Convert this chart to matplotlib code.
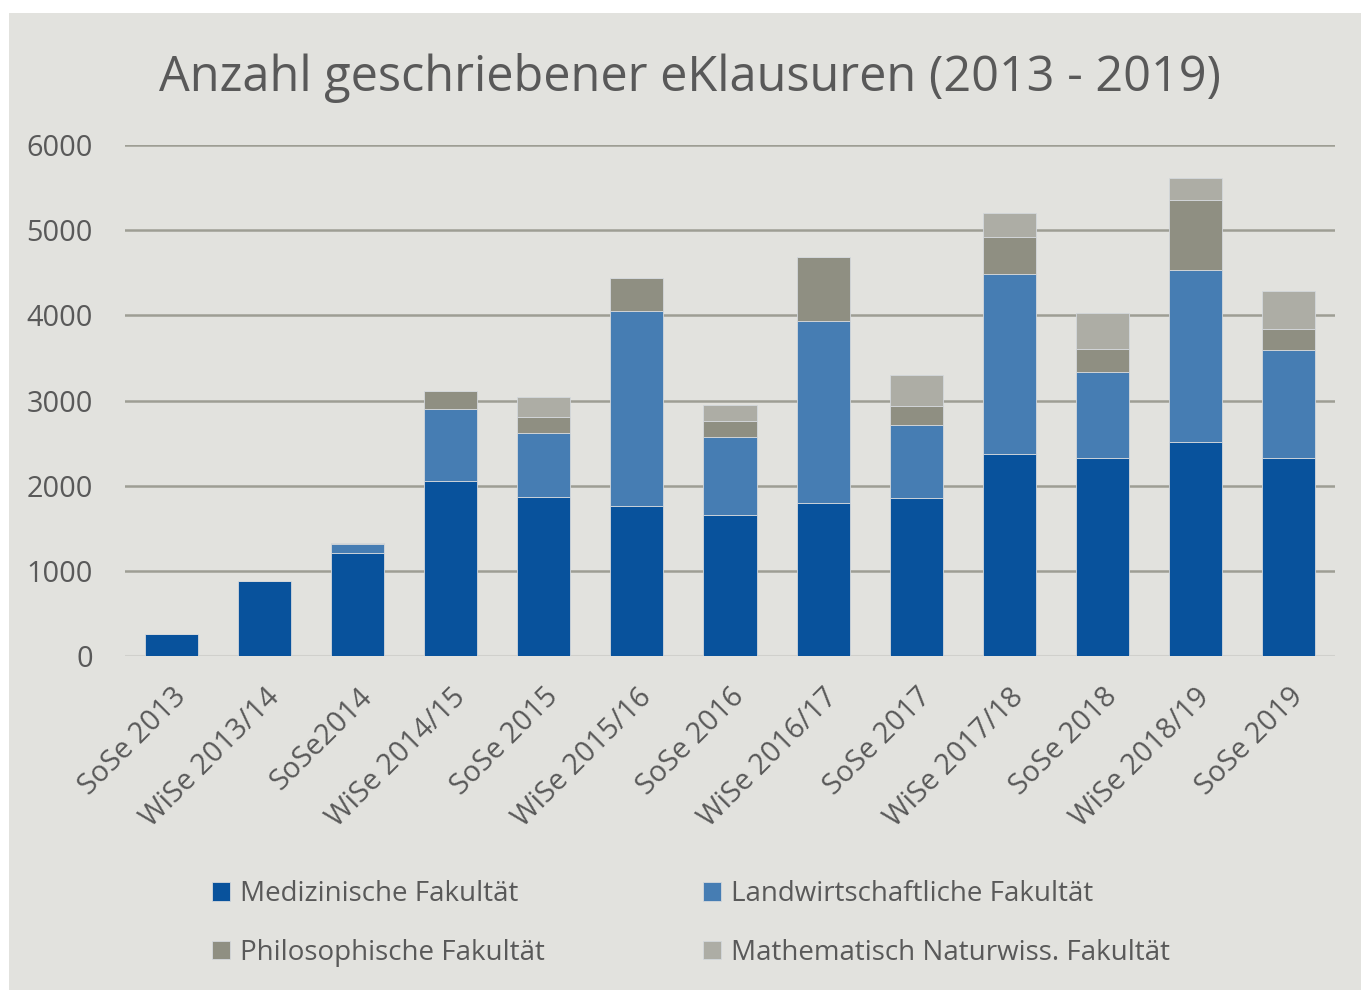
import numpy as np
import matplotlib as mpl
mpl.use('Agg')
import matplotlib.pyplot as plt

# Semester und Werte
semester = ['SoSe 2013', 'WiSe 2013/14', 'SoSe2014', 'WiSe 2014/15', 'SoSe 2015',
            'WiSe 2015/16', 'SoSe 2016', 'WiSe 2016/17', 'SoSe 2017', 'WiSe 2017/18',
            'SoSe 2018', 'WiSe 2018/19', 'SoSe 2019']
medizin = [260, 875, 1210, 2050, 1870, 1760, 1660, 1800, 1850, 2375, 2320, 2510, 2320]
landwirt = [0, 0, 100, 845, 745, 2290, 910, 2135, 860, 2110, 1015, 2025, 1270]
philo = [0, 0, 20, 215, 195, 390, 185, 750, 220, 440, 265, 825, 250]
mathnat = [0, 0, 0, 0, 235, 0, 190, 0, 365, 275, 430, 250, 445]

namen = ['Medizinische Fakultät', 'Landwirtschaftliche Fakultät',
         'Philosophische Fakultät', 'Mathematisch Naturwiss. Fakultät']
farben = ['#08529c', '#467db3', '#8f8f82', '#adada5']

plt.rcParams['font.family'] = ['Open Sans', 'DejaVu Sans']
bg = '#e2e2de'
txt = '#595959'

fig = plt.figure(figsize=(13.61, 9.9), dpi=100)
fig.patch.set_facecolor('white')
# grauer Hintergrund mit weissem Rand oben/links
fig.patches.append(mpl.patches.Rectangle((9/1361, 0), 1, 1 - 13/990, transform=fig.transFigure,
                                         facecolor=bg, edgecolor='none', zorder=-10))

ax = fig.add_axes([125/1361, (990-656)/990, 1210/1361, 511/990])
ax.set_facecolor(bg)

x = np.arange(len(semester))
serien = [medizin, landwirt, philo, mathnat]
unten = np.zeros(len(semester))
handles = []
for werte, name, c in zip(serien, namen, farben):
    werte = np.array(werte, dtype=float)
    b = ax.bar(x, werte, width=0.57, bottom=unten, color=c, label=name,
               edgecolor='#d4d8dc', linewidth=0.6, zorder=3)
    handles.append(b)
    unten += werte

ax.set_ylim(0, 6000)
ax.set_xlim(-0.5, len(semester) - 0.5)
ax.set_yticks(range(0, 6001, 1000))
ax.grid(axis='y', color='#9e9e94', lw=1.8, zorder=1)
ax.axhline(0, color='#d0d0cc', lw=1.5, zorder=2)
for s in ax.spines.values():
    s.set_visible(False)
ax.tick_params(length=0, labelsize=20.8, colors=txt)
ax.tick_params(axis='y', pad=23)
ax.tick_params(axis='x', pad=19)
ax.set_xticks(x)
ax.set_xticklabels(semester, rotation=45, ha='right', rotation_mode='anchor')
for lbl in ax.get_xticklabels():
    lbl.set_color(txt)

fig.text(690/1361, 1 - 91/990, 'Anzahl geschriebener eKlausuren (2013 - 2019)',
         ha='center', va='baseline', fontsize=35, color=txt)

order = [0, 2, 1, 3]
leg = fig.legend([handles[i] for i in order], [namen[i] for i in order],
                 ncol=2, loc='upper left', bbox_to_anchor=(212/1361, 1 - 880/990),
                 frameon=False, fontsize=20, handlelength=0.65, handleheight=0.65,
                 handletextpad=0.35, columnspacing=5.7, labelspacing=1.1,
                 borderaxespad=0, borderpad=0)
for t in leg.get_texts():
    t.set_color(txt)

fig.savefig('out.png', dpi=100)
